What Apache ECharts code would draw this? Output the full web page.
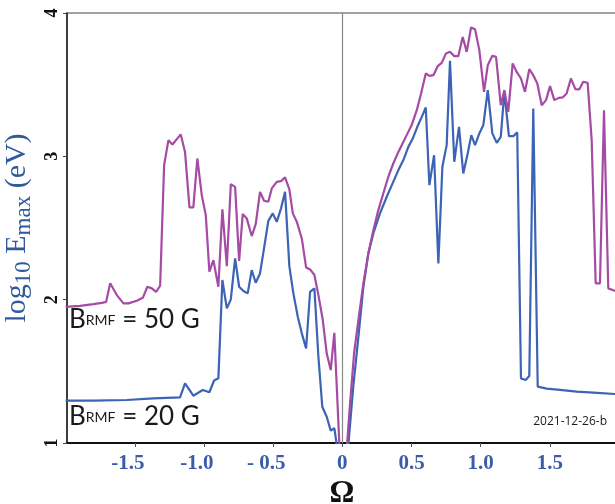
<!DOCTYPE html>
<html>
<head>
<meta charset="utf-8">
<script src="https://cdn.jsdelivr.net/npm/echarts@6/dist/echarts.min.js"></script>
<style>
html,body{margin:0;padding:0;background:#fff;}
#chart{width:615px;height:504px;}
</style>
</head>
<body>
<div id="chart"></div>
<script>
// B_RMF = 50 G  (magenta)
const omega50 = [-2.00,-1.895,-1.799,-1.738,-1.707,-1.678,-1.630,-1.582,-1.546,-1.486,-1.442,-1.409,-1.377,-1.346,-1.317,-1.288,-1.257,-1.228,-1.168,-1.137,-1.105,-1.077,-1.048,-1.016,-0.987,-0.961,-0.932,-0.896,-0.867,-0.835,-0.806,-0.775,-0.746,-0.720,-0.691,-0.655,-0.626,-0.595,-0.566,-0.535,-0.510,-0.474,-0.443,-0.414,-0.383,-0.358,-0.329,-0.293,-0.262,-0.233,-0.202,-0.173,-0.142,-0.113,-0.084,-0.058,-0.017,0.027,0.056,0.085,0.116,0.152,0.188,0.224,0.260,0.296,0.332,0.368,0.405,0.429,0.465,0.501,0.538,0.569,0.603,0.629,0.658,0.689,0.718,0.749,0.778,0.809,0.838,0.870,0.899,0.930,0.959,0.990,1.024,1.051,1.084,1.111,1.145,1.171,1.199,1.231,1.260,1.291,1.320,1.351,1.380,1.409,1.441,1.472,1.501,1.532,1.564,1.592,1.621,1.652,1.684,1.712,1.741,1.773,1.802,1.831,1.862,1.891,1.922,1.970,2.00];
const logE50 = [1.950,1.957,1.969,1.978,1.985,2.114,2.032,1.974,1.974,1.992,2.013,2.090,2.079,2.055,2.097,2.939,3.113,3.083,3.153,3.031,2.644,2.644,2.985,2.729,2.590,2.195,2.276,2.090,2.630,2.234,2.806,2.787,2.271,2.597,2.567,2.444,2.527,2.752,2.690,2.683,2.776,2.822,2.827,2.853,2.769,2.602,2.543,2.427,2.225,2.211,2.172,2.032,1.863,1.626,1.509,1.769,0.895,0.895,1.279,1.628,1.858,2.114,2.323,2.485,2.625,2.741,2.857,2.950,3.031,3.078,3.148,3.218,3.322,3.439,3.578,3.561,3.566,3.629,3.652,3.718,3.729,3.699,3.699,3.833,3.729,3.899,3.887,3.741,3.450,3.636,3.701,3.694,3.357,3.462,3.310,3.648,3.589,3.543,3.450,3.608,3.566,3.508,3.357,3.392,3.490,3.392,3.408,3.411,3.439,3.543,3.469,3.467,3.520,3.513,3.113,2.114,2.114,3.322,2.079,2.062,2.060];

// B_RMF = 20 G  (blue)
const omega20 = [-2.00,-1.799,-1.558,-1.366,-1.173,-1.137,-1.077,-1.009,-0.961,-0.927,-0.896,-0.867,-0.835,-0.806,-0.775,-0.746,-0.715,-0.684,-0.655,-0.626,-0.595,-0.566,-0.535,-0.503,-0.474,-0.443,-0.414,-0.383,-0.354,-0.322,-0.293,-0.262,-0.233,-0.202,-0.173,-0.145,-0.113,-0.084,-0.058,-0.024,0.034,0.079,0.116,0.152,0.188,0.224,0.272,0.321,0.368,0.405,0.441,0.477,0.509,0.542,0.574,0.603,0.629,0.663,0.694,0.723,0.754,0.778,0.809,0.843,0.874,0.906,0.932,0.959,0.990,1.019,1.051,1.084,1.116,1.145,1.171,1.204,1.236,1.264,1.291,1.325,1.351,1.380,1.412,1.477,1.573,1.694,1.814,1.970,2.00];
const logE20 = [1.295,1.295,1.300,1.312,1.319,1.416,1.330,1.370,1.354,1.436,1.451,2.137,1.939,2.002,2.288,2.090,2.060,2.044,2.206,2.118,2.183,2.358,2.550,2.602,2.543,2.637,2.752,2.234,2.044,1.881,1.765,1.660,2.055,2.079,1.602,1.253,1.183,1.086,1.103,0.881,0.881,1.393,1.741,2.090,2.323,2.462,2.602,2.718,2.822,2.904,2.974,3.066,3.125,3.206,3.275,3.341,2.799,3.008,2.253,2.927,3.078,3.666,2.962,3.206,2.881,3.020,3.148,3.078,3.160,3.218,3.462,3.160,3.094,3.136,3.450,3.141,3.141,3.167,1.451,1.439,1.467,3.334,1.393,1.379,1.370,1.358,1.351,1.342,1.341];

const xTicks = [-1.5, -1, -0.5, 0, 0.5, 1, 1.5];
const xTickLabels = ['-1.5', '-1.0', '- 0.5', '0', '0.5', '1.0', '1.5'];
const yTicks = [1, 2, 3, 4];

const pairs = (xs, ys) => xs.map((x, i) => [x, ys[i]]);

const labelFont = {fontFamily: 'Liberation Serif', fontWeight: 'bold', fontSize: 21, color: '#3b5ca8'};
const annot = {
  b: {fontFamily: 'Lato', fontSize: 26, fill: '#1a1a1a'},
  r: {fontFamily: 'Lato', fontSize: 14, fill: '#1a1a1a'}
};

const chart = echarts.init(document.getElementById('chart'), null, {renderer: 'canvas'});
chart.setOption({
  animation: false,
  backgroundColor: '#fff',
  grid: {
    left: 67, right: -2, top: 13, bottom: 61,
    show: true, borderColor: '#444', borderWidth: 1.2,
    outerBoundsMode: 'none'
  },
  xAxis: {
    type: 'value', min: -1.99, max: 1.985,
    name: 'Ω', nameLocation: 'middle', nameGap: 31,
    nameTextStyle: {fontFamily: 'Liberation Serif', fontWeight: 'bold', fontSize: 31, color: '#111'},
    axisLine: {show: true, onZero: false, lineStyle: {color: '#111', width: 2}},
    axisTick: {show: true, length: 4, customValues: xTicks, lineStyle: {color: '#555'}},
    axisLabel: {
      customValues: xTicks, margin: 10,
      fontFamily: 'Liberation Serif', fontWeight: 'bold', fontSize: 21, color: '#3b5ca8',
      formatter: v => {
        const key = Math.round(v * 10) / 10;
        const t = xTickLabels[xTicks.indexOf(key)] || '';
        return key < 0 ? '{n|' + t + '}' : '{p|' + t + '}';
      },
      rich: {
        n: Object.assign({padding: [0, 14, 0, 0]}, labelFont),
        p: Object.assign({}, labelFont)
      }
    },
    splitLine: {show: false}
  },
  yAxis: {
    type: 'value', min: 1, max: 4, interval: 1,
    name: '{m|log}{s|10}{m| E}{s|max}{m| (eV)}',
    nameLocation: 'middle', nameGap: 28,
    nameTextStyle: {
      color: '#2f5a9b',
      rich: {
        m: {fontFamily: 'Liberation Serif', fontSize: 30, color: '#2f5a9b', lineHeight: 35, verticalAlign: 'middle'},
        s: {fontFamily: 'Liberation Serif', fontSize: 23, color: '#2f5a9b', lineHeight: 23, verticalAlign: 'bottom'}
      }
    },
    axisLine: {show: true, onZero: false, lineStyle: {color: '#222', width: 1.5}},
    axisTick: {show: true, length: 4, lineStyle: {color: '#444'}},
    axisLabel: {
      rotate: 90, margin: 6,
      fontFamily: 'Liberation Serif', fontWeight: 'bold', fontSize: 18, color: '#111'
    },
    splitLine: {show: false}
  },
  series: [
    {
      name: 'B_RMF = 20 G', type: 'line', showSymbol: false, clip: true,
      data: pairs(omega20, logE20),
      lineStyle: {color: '#3c63b5', width: 2.2},
      itemStyle: {color: '#3c63b5'},
      markLine: {
        silent: true, symbol: ['none', 'none'], label: {show: false},
        lineStyle: {color: '#888', width: 1.2, type: 'solid'},
        data: [{xAxis: 0}]
      },
      z: 2
    },
    {
      name: 'B_RMF = 50 G', type: 'line', showSymbol: false, clip: true,
      data: pairs(omega50, logE50),
      lineStyle: {color: '#a54aa5', width: 2.2},
      itemStyle: {color: '#a54aa5'},
      z: 3
    }
  ],
  graphic: [
    {
      type: 'text', left: 69, top: 307, z: 10,
      style: {text: '{b|B}{r|RMF}{b| = 50 G}', rich: annot}
    },
    {
      type: 'text', left: 69, top: 404, z: 10,
      style: {text: '{b|B}{r|RMF}{b| = 20 G}', rich: annot}
    },
    {
      type: 'text', right: 8, top: 416, z: 10,
      style: {text: '2021-12-26-b', font: '12px "Open Sans"', fill: '#1a1a1a'}
    }
  ]
});
</script>
</body>
</html>
